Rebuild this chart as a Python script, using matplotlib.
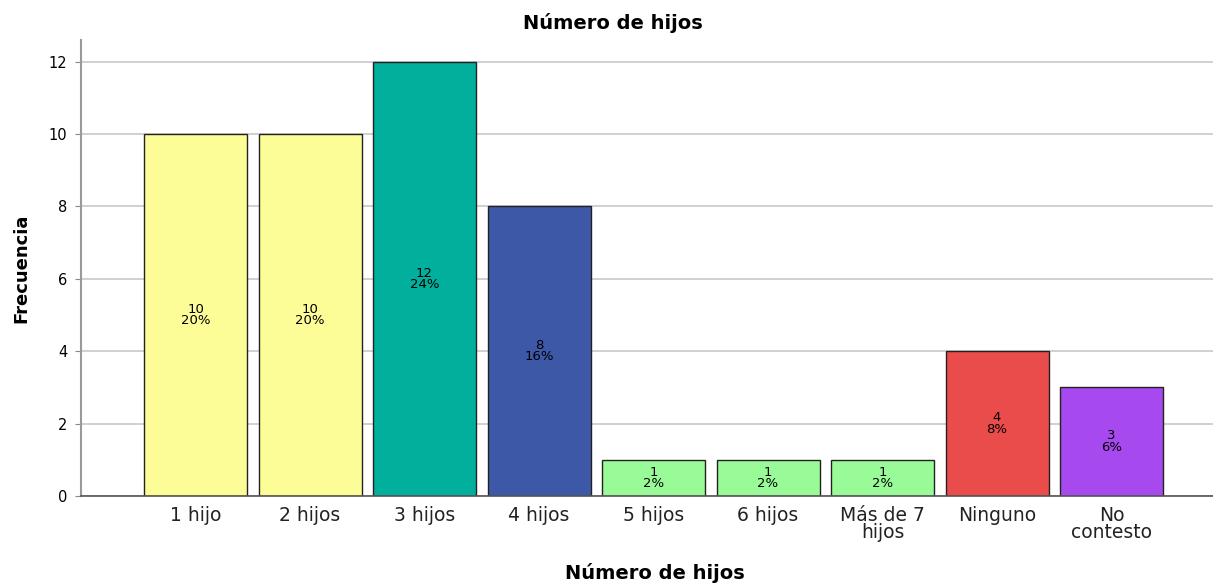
import numpy as np
import matplotlib.pyplot as plt

plt.rcParams['font.family'] = ['DejaVu Sans']

categorias = ['1 hijo', '2 hijos', '3 hijos', '4 hijos', '5 hijos', '6 hijos',
              'Más de 7\nhijos', 'Ninguno', 'No\ncontesto']
frecuencias = [10, 10, 12, 8, 1, 1, 1, 4, 3]
porcentajes = ['20%', '20%', '24%', '16%', '2%', '2%', '2%', '8%', '6%']
colores = ['#FDFD97', '#FDFD97', '#00B09C', '#3E58A8', '#98FB98', '#98FB98',
           '#98FB98', '#EA4B4B', '#A64AF0']
yticks = [0, 2, 4, 6, 8, 10, 12]

fig = plt.figure(figsize=(12.13, 5.83), dpi=100)
ax = fig.add_axes([0.0668, 0.1492, 0.9332, 0.7822])

x = np.arange(len(categorias))
ax.bar(x, frecuencias, width=0.9, color=colores, edgecolor='#222222',
       linewidth=1.0, zorder=3)

# etiquetas dentro de las barras
for xi, f, p in zip(x, frecuencias, porcentajes):
    ax.text(xi, f / 2.0, '%d\n%s' % (f, p), ha='center', va='center',
            fontsize=9.5, linespacing=0.85, color='black', zorder=4)

ax.set_xlim(-1.0, 8.886)
ax.set_ylim(0, 12.6)
ax.set_yticks(yticks)
ax.set_xticks(x)
ax.set_xticklabels(categorias, fontsize=13.5, color='#222222', linespacing=0.9)
ax.tick_params(axis='x', length=0, pad=7)
ax.tick_params(axis='y', length=4, color='#888888', labelsize=10.5, pad=6)
ax.grid(axis='y', color='#C8C8C8', linewidth=1.2, zorder=0)

for s in ['top', 'right']:
    ax.spines[s].set_visible(False)
ax.spines['left'].set_color('#999999')
ax.spines['left'].set_linewidth(1.5)
ax.spines['bottom'].set_color('#555555')
ax.spines['bottom'].set_linewidth(1.2)
ax.spines['bottom'].set_zorder(5)

fig.text(0.505, 0.96, 'Número de hijos', ha='center', va='center',
         fontsize=14, fontweight='bold')
fig.text(0.54, 0.017, 'Número de hijos', ha='center', va='center',
         fontsize=14, fontweight='bold')
fig.text(0.018, 0.54, 'Frecuencia', ha='center', va='center', rotation=90,
         fontsize=13, fontweight='bold')

fig.savefig('out.png', dpi=100)
